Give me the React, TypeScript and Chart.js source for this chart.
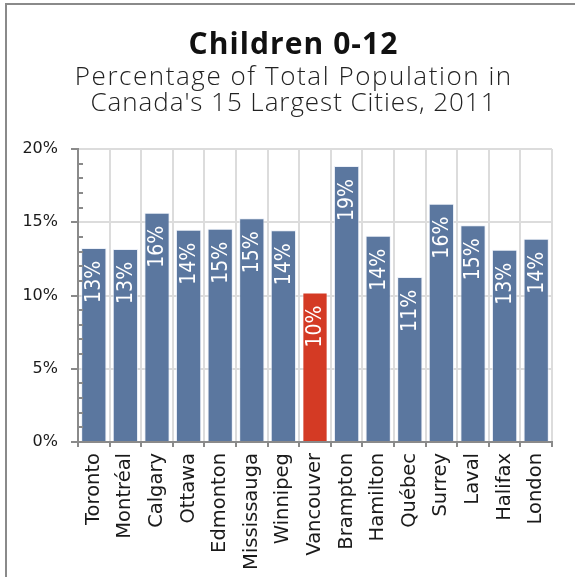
import React, { useEffect, useRef } from "react";
import { Chart, registerables } from "chart.js";

Chart.register(...registerables);

const cities = [
  "Toronto", "Montréal", "Calgary", "Ottawa", "Edmonton", "Mississauga", "Winnipeg",
  "Vancouver", "Brampton", "Hamilton", "Québec", "Surrey", "Laval", "Halifax", "London",
];
const shares = [13.25, 13.18, 15.64, 14.48, 14.55, 15.27, 14.45, 10.2, 18.84, 14.07, 11.27, 16.27, 14.79, 13.12, 13.87];
const highlightCity = "Vancouver";
const yMin = 0;
const yMax = 20;
const yMajorStep = 5;
const yMinorStep = 1;
const titleText = "Children 0-12";
const subtitleLines = ["Percentage of Total Population in", "Canada's 15 Largest Cities, 2011"];

const BLUE = "#5b779f";
const RED = "#d43a24";
const AXIS = "#8a8a8a";
const GRID = "#dcdcdc";

function spacedText(ctx: any, text: string, cx: number, y: number, target: number) {
  ctx.letterSpacing = "0px";
  const w = ctx.measureText(text).width;
  const sp = Math.max(0, (target - w) / text.length);
  ctx.letterSpacing = sp.toFixed(2) + "px";
  ctx.fillText(text, cx + sp / 2, y);
}

const headline = {
  id: "headline",
  afterDraw(chart: any) {
    const ctx = chart.ctx;
    const cx = 293;
    ctx.save();
    ctx.textAlign = "center";
    ctx.textBaseline = "alphabetic";
    ctx.fillStyle = "#111";
    ctx.font = 'bold 30px "Open Sans", "DejaVu Sans", sans-serif';
    spacedText(ctx, titleText, cx, 54, 210);
    ctx.fillStyle = "#222";
    ctx.font = '300 26px "Open Sans", "DejaVu Sans", sans-serif';
    spacedText(ctx, subtitleLines[0], cx, 85, 438);
    spacedText(ctx, subtitleLines[1], cx, 111, 406);
    ctx.restore();
  },
};

const minorTicks = {
  id: "minorTicks",
  afterDraw(chart: any) {
    const y = chart.scales.y;
    const ctx = chart.ctx;
    const left = chart.chartArea.left;
    ctx.save();
    ctx.strokeStyle = AXIS;
    ctx.lineWidth = 2;
    for (let v = yMin; v <= yMax; v += yMinorStep) {
      if (v % yMajorStep === 0) continue;
      const py = Math.round(y.getPixelForValue(v));
      ctx.beginPath();
      ctx.moveTo(left, py);
      ctx.lineTo(left + 5, py);
      ctx.stroke();
    }
    ctx.restore();
  },
};

const barLabels = {
  id: "barLabels",
  afterDatasetsDraw(chart: any) {
    const ctx = chart.ctx;
    const meta = chart.getDatasetMeta(0);
    ctx.save();
    ctx.fillStyle = "#ffffff";
    ctx.font = '21px "Liberation Sans Narrow", "DejaVu Sans Condensed", sans-serif';
    ctx.textAlign = "right";
    ctx.textBaseline = "middle";
    meta.data.forEach((bar: any, i: number) => {
      ctx.save();
      ctx.translate(bar.x, bar.y + 13);
      ctx.rotate(-Math.PI / 2);
      ctx.fillText(Math.round(shares[i]) + "%", 0, 1);
      ctx.restore();
    });
    ctx.restore();
  },
};

export default function App() {
  const ref = useRef<HTMLCanvasElement | null>(null);

  useEffect(() => {
    if (!ref.current) return;
    const chart = new Chart(ref.current, {
      type: "bar",
      data: {
        labels: cities,
        datasets: [
          {
            data: shares,
            backgroundColor: cities.map((c) => (c === highlightCity ? RED : BLUE)),
            borderColor: cities.map((c) => (c === highlightCity ? "rgba(255,255,255,0.35)" : "rgba(230,235,245,0.75)")),
            borderWidth: 1,
            barPercentage: 0.8,
            categoryPercentage: 1,
          },
        ],
      },
      options: {
        responsive: false,
        animation: false,
        events: [],
        layout: { padding: { left: 20, right: 23, top: 149, bottom: 5 } },
        plugins: {
          legend: { display: false },
          tooltip: { enabled: false },
          title: { display: false },
        },
        scales: {
          x: {
            grid: {
              offset: true,
              color: GRID,
              lineWidth: 2,
              tickColor: AXIS,
              tickWidth: 2,
              tickLength: 5,
            },
            border: { color: AXIS, width: 2 },
            ticks: {
              color: "#1a1a1a",
              font: { family: '"DejaVu Sans", sans-serif', size: 19.5 },
              maxRotation: 90,
              minRotation: 90,
              padding: 6,
              autoSkip: false,
            },
            afterFit(scale: any) {
              scale.height = 130;
            },
          },
          y: {
            min: yMin,
            max: yMax,
            grid: {
              color: GRID,
              lineWidth: 2,
              tickColor: AXIS,
              tickWidth: 2,
              tickLength: 7,
            },
            border: { color: AXIS, width: 2 },
            ticks: {
              stepSize: yMajorStep,
              color: "#1a1a1a",
              font: { family: '"DejaVu Sans", sans-serif', size: 16 },
              padding: 13,
              callback: (v: any) => v + "%",
            },
            afterFit(scale: any) {
              scale.width = 58;
            },
          },
        },
      },
      plugins: [minorTicks, barLabels, headline],
    });
    return () => chart.destroy();
  }, []);

  return (
    <div style={{ position: "fixed", left: 0, top: 0, width: 575, height: 577, background: "#fff", overflow: "hidden" }}>
      <canvas ref={ref} width={575} height={577} style={{ display: "block" }} />
      <div style={{ position: "absolute", left: 5, top: 3, width: 575, height: 577, borderLeft: "2px solid #8a8a8a", borderTop: "2px solid #8a8a8a", pointerEvents: "none" }} />
    </div>
  );
}
